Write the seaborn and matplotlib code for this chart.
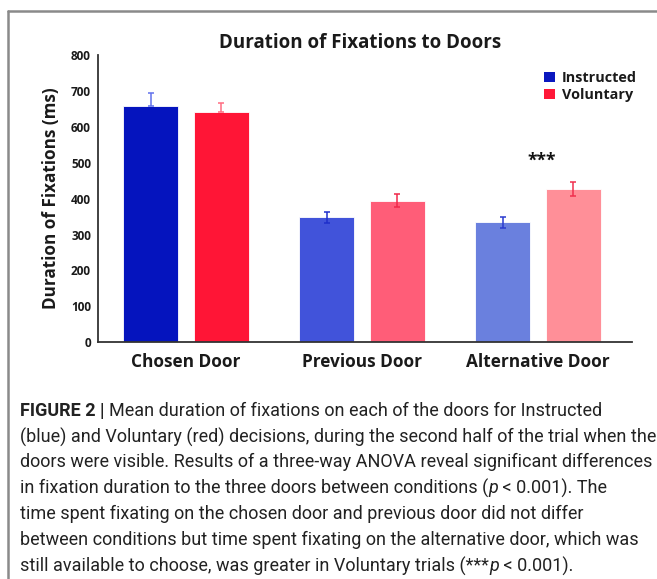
import matplotlib
matplotlib.use("Agg")
import matplotlib.pyplot as plt
import seaborn as sns
import pandas as pd
from matplotlib.patches import Patch
from matplotlib.lines import Line2D

# ---- data ----
doors = ["Chosen Door", "Previous Door", "Alternative Door"]
conditions = ["Instructed", "Voluntary"]
instructed = [657, 348, 334]
voluntary = [640, 394, 427]
instructed_err_low = [0, 15, 16]
instructed_err_high = [38, 15, 15]
voluntary_err_low = [0, 18, 19]
voluntary_err_high = [27, 19, 20]
y_ticks = [0, 100, 200, 300, 400, 500, 600, 700, 800]
title = "Duration of Fixations to Doors"
ylabel = "Duration of Fixations (ms)"
sig_label = "***"
sig_y = 505

instructed_colors = ["#0514BE", "#4153DA", "#6A80DE"]
voluntary_colors = ["#FF1536", "#FF5D78", "#FF8F98"]
instructed_err_colors = ["#6272EC", "#1E2FCB", "#2A3BCF"]
voluntary_err_colors = ["#FF6E82", "#F0284A", "#F0304E"]
legend_colors = ["#0A18BF", "#FF1838"]

caption_lines = [
    [("FIGURE 2 | ", "bold"), ("Mean duration of fixations on each of the doors for Instructed", "normal")],
    [("(blue) and Voluntary (red) decisions, during the second half of the trial when the", "normal")],
    [("doors were visible. Results of a three-way ANOVA reveal significant differences", "normal")],
    [("in fixation duration to the three doors between conditions (", "normal"), ("p", "italic"), (" < 0.001). The", "normal")],
    [("time spent fixating on the chosen door and previous door did not differ", "normal")],
    [("between conditions but time spent fixating on the alternative door, which was", "normal")],
    [("still available to choose, was greater in Voluntary trials (***", "normal"), ("p", "italic"), (" < 0.001).", "normal")],
]

df = pd.DataFrame({
    "door": doors * 2,
    "condition": [conditions[0]] * 3 + [conditions[1]] * 3,
    "duration": instructed + voluntary,
})

sns.set_theme(style="white")
chart_font = ["Open Sans", "DejaVu Sans"]
plt.rcParams["font.family"] = chart_font

W, H = 657, 579
fig = plt.figure(figsize=(W / 100, H / 100), dpi=100)
ax = fig.add_axes([97.9 / W, 1 - 342.3 / H, (632 - 97.9) / W, (342.3 - 55) / H])

sns.barplot(data=df, x="door", y="duration", hue="condition", order=doors,
            hue_order=conditions, palette=legend_colors, width=0.8, gap=0.22,
            errorbar=None, legend=False, ax=ax, saturation=1)

patches = ax.patches[:6]
all_colors = instructed_colors + voluntary_colors
for p, c in zip(patches, all_colors):
    p.set_facecolor(c)
    p.set_edgecolor("#ffffff")
    p.set_linewidth(0.6)
    p.set_alpha(1)

err_low = instructed_err_low + voluntary_err_low
err_high = instructed_err_high + voluntary_err_high
err_cols = instructed_err_colors + voluntary_err_colors
for p, lo, hi, c in zip(patches, err_low, err_high, err_cols):
    xc = p.get_x() + p.get_width() / 2
    yv = p.get_height()
    ax.errorbar([xc], [yv], yerr=[[lo], [hi]], fmt="none", ecolor=c,
                elinewidth=1.1, capsize=2.2, capthick=1.1, zorder=5)

ax.set_xlim(-0.50, 2.534)
ax.set_ylim(0, 800)
ax.set_yticks(y_ticks)
ax.set_yticklabels([str(t) for t in y_ticks], fontsize=8.5, fontweight="bold", color="#1a1a1a")
ax.set_xticks(range(len(doors)))
ax.set_xticklabels(doors, fontsize=12.4, fontweight="bold", color="#1a1a1a")
ax.tick_params(axis="y", length=0, pad=5)
ax.tick_params(axis="x", length=0, pad=8)
ax.set_xlabel("")
ax.set_ylabel(ylabel, fontsize=12.3, fontweight="bold", color="#1a1a1a", labelpad=8)
for s in ["top", "right"]:
    ax.spines[s].set_visible(False)
for s in ["left", "bottom"]:
    ax.spines[s].set_color("#333333")
    ax.spines[s].set_linewidth(1.3)

ax.text(2.02, sig_y, sig_label, ha="center", va="center", fontsize=12.5,
        fontweight="bold", color="#111111")

fig.text(360 / W, 1 - 43 / H, title, ha="center", va="center", fontsize=13.5,
         fontweight="bold", color="#1a1a1a")

handles = [Patch(facecolor=c, edgecolor="none") for c in legend_colors]
leg = ax.legend(handles, conditions, loc="upper left", bbox_to_anchor=(544 / W, 1 - 71 / H),
                bbox_transform=fig.transFigure, frameon=False, handlelength=0.75,
                handleheight=0.75, handletextpad=0.5, labelspacing=0.22,
                borderpad=0, borderaxespad=0,
                prop={"weight": "bold", "size": 10.4, "family": chart_font})
for t in leg.get_texts():
    t.set_color("#1a1a1a")

# frame lines
fig.add_artist(Line2D([7.5 / W, 1.0], [1 - 11 / H, 1 - 11 / H], transform=fig.transFigure,
                      color="#8a8a8a", lw=1.8))
fig.add_artist(Line2D([7.5 / W, 7.5 / W], [0, 1 - 11 / H], transform=fig.transFigure,
                      color="#8a8a8a", lw=1.8))

# caption
cap_font = ["Roboto", "DejaVu Sans"]
fig.canvas.draw()
renderer = fig.canvas.get_renderer()
line_y = [411, 437, 462, 488, 514, 540, 566]
for segs, yy in zip(caption_lines, line_y):
    x = 20 / W
    for txt, style in segs:
        kw = dict(fontsize=13.0, color="#222222", family=cap_font, va="center", ha="left")
        if style == "bold":
            kw["fontweight"] = "bold"
        if style == "italic":
            kw["fontstyle"] = "italic"
        t = fig.text(x, 1 - yy / H, txt, **kw)
        bb = t.get_window_extent(renderer=renderer)
        x = x + bb.width / W

fig.savefig("out.png", dpi=100)
